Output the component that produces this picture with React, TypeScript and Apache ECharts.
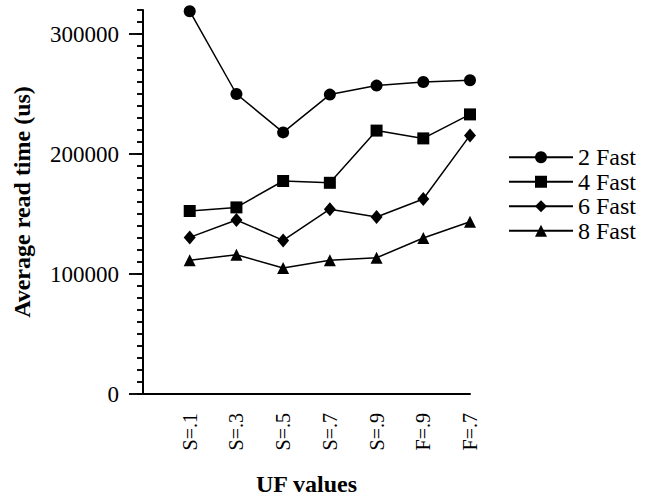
import React, { useEffect, useRef } from "react";
import * as echarts from "echarts";

const categories = ["S=.1", "S=.3", "S=.5", "S=.7", "S=.9", "F=.9", "F=.7"];
const seriesNames = ["2 Fast", "4 Fast", "6 Fast", "8 Fast"];
const fast2 = [319000, 250000, 218000, 249500, 257000, 260000, 261500];
const fast4 = [152500, 155500, 177500, 176000, 219500, 213000, 233000];
const fast6 = [130500, 145000, 128000, 154000, 147500, 162500, 215500];
const fast8 = [111500, 116000, 105000, 111500, 113500, 130000, 143500];
const yMajorTicks = [0, 100000, 200000, 300000];
const yMax = 320000;
const yMinorStep = 10000;

const FONT = "'Liberation Serif', 'Times New Roman', serif";

export default function App() {
  const ref = useRef<HTMLDivElement>(null);
  useEffect(() => {
    if (!ref.current) return;
    const chart = echarts.init(ref.current, null, { renderer: "svg" });
    const toPoints = (vals: number[]) => vals.map((v, i) => [i + 1, v]);
    const symbols = ["circle", "rect", "diamond", "triangle"];
    const sizes: any[] = [12, 12, [12, 14], 12];
    const all = [fast2, fast4, fast6, fast8];
    const tickValues: number[][] = [];
    for (let v = 0; v <= yMax; v += yMinorStep) tickValues.push([0, v]);

    const hiddenX = (gridIndex: number) => ({
      type: "value",
      gridIndex,
      min: 0,
      max: 1,
      axisLine: { show: false },
      axisTick: { show: false },
      axisLabel: { show: false },
      splitLine: { show: false },
    });
    const tickY = (gridIndex: number, max: number, interval: number) => ({
      type: "value",
      gridIndex,
      min: 0,
      max,
      interval,
      axisLine: { show: false },
      axisTick: { show: false },
      axisLabel: { show: false },
      splitLine: { show: true, lineStyle: { color: "#000", width: 1.5, type: "solid" } },
    });

    chart.setOption({
      animation: false,
      backgroundColor: "#fff",
      textStyle: { fontFamily: FONT, color: "#000" },
      grid: [
        { left: 143, top: 10, right: 183, bottom: 103, containLabel: false, outerBoundsMode: "none" },
        { left: 129, width: 14, top: 34, bottom: 103, containLabel: false, outerBoundsMode: "none" },
        { left: 137, width: 6, top: 10, bottom: 103, containLabel: false, outerBoundsMode: "none" },
      ],
      legend: {
        orient: "vertical",
        left: 508,
        top: 145,
        padding: 0,
        itemWidth: 64,
        itemHeight: 15,
        itemGap: 0,
        data: seriesNames,
        textStyle: { fontFamily: FONT, fontSize: 24, color: "#000", lineHeight: 24.5 },
      },
      xAxis: [
        {
          type: "value",
          gridIndex: 0,
          min: 0,
          max: 7,
          interval: 1,
          name: "UF values",
          nameLocation: "middle",
          nameGap: 78,
          nameMoveOverlap: false,
          nameTextStyle: { fontFamily: FONT, fontSize: 24, fontWeight: "bold", color: "#000" },
          axisLine: { show: true, onZero: false, lineStyle: { color: "#000", width: 2 } },
          axisTick: { show: false },
          splitLine: { show: false },
          axisLabel: {
            rotate: 90,
            margin: 19,
            fontFamily: FONT,
            fontSize: 20,
            color: "#000",
            formatter: (v: number) => (v >= 1 && v <= categories.length ? categories[v - 1] : ""),
          },
        },
        hiddenX(1),
        hiddenX(2),
      ],
      yAxis: [
        {
          type: "value",
          gridIndex: 0,
          position: "left",
          min: 0,
          max: yMax,
          interval: 100000,
          name: "Average read time (us)",
          nameLocation: "middle",
          nameGap: 109,
          nameMoveOverlap: false,
          nameTextStyle: { fontFamily: FONT, fontSize: 24, fontWeight: "bold", color: "#000" },
          axisLine: { show: true, onZero: false, lineStyle: { color: "#000", width: 2 } },
          axisTick: { show: false },
          splitLine: { show: false },
          axisLabel: {
            show: true,
            margin: 24,
            fontFamily: FONT,
            fontSize: 23,
            color: "#000",
            showMaxLabel: false,
            formatter: (v: number) => (yMajorTicks.indexOf(v) >= 0 ? String(v) : ""),
          },
        },
        tickY(1, 300000, 100000),
        tickY(2, yMax, yMinorStep),
      ],
      series: [
        ...all.map((vals, i) => ({
          name: seriesNames[i],
          type: "line",
          xAxisIndex: 0,
          yAxisIndex: 0,
          data: toPoints(vals),
          symbol: symbols[i],
          symbolSize: sizes[i],
          color: "#000",
          itemStyle: { color: "#000" },
          lineStyle: { color: "#000", width: 1.5 },
        })),
        {
          type: "custom",
          name: "yticks",
          xAxisIndex: 0,
          yAxisIndex: 0,
          clip: false,
          silent: true,
          z: 10,
          data: tickValues,
          renderItem: (params: any, api: any) => {
            const v = api.value(1);
            const pt = api.coord([0, v]);
            const len = yMajorTicks.indexOf(v) >= 0 ? 14 : 6;
            return {
              type: "line",
              shape: { x1: pt[0] - len, y1: pt[1], x2: pt[0], y2: pt[1] },
              style: { stroke: "#000", lineWidth: 1.5 },
            };
          },
        },
      ],
    });
    return () => chart.dispose();
  }, []);
  return (
    <div
      ref={ref}
      style={{ position: "fixed", left: 0, top: 0, width: 653, height: 497, background: "#fff" }}
    />
  );
}
